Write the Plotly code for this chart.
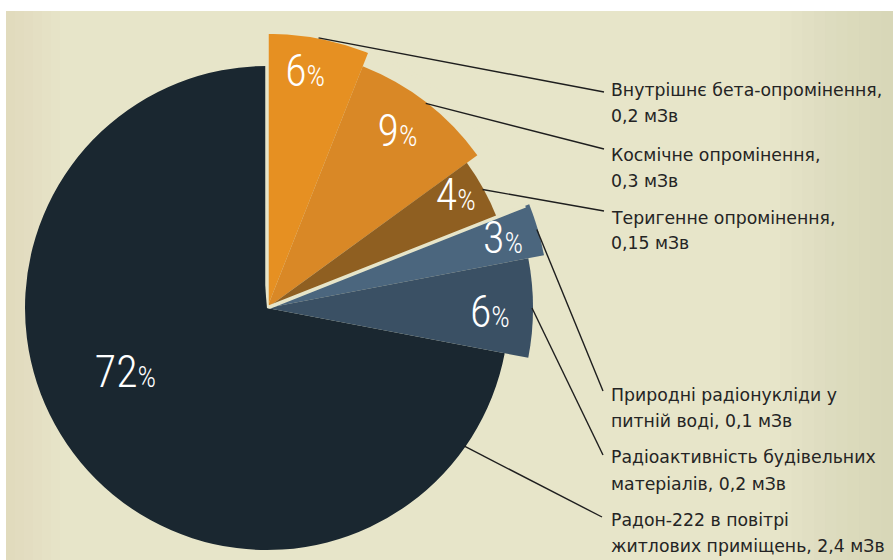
import math
import plotly.graph_objects as go

# ---------------- data ----------------
categories = [
    "Внутрішнє бета-опромінення",
    "Космічне опромінення",
    "Теригенне опромінення",
    "Природні радіонукліди у питній воді",
    "Радіоактивність будівельних матеріалів",
    "Радон-222 в повітрі житлових приміщень",
]
doses_msv = ["0,2", "0,3", "0,15", "0,1", "0,2", "2,4"]
percent = [6, 9, 4, 3, 6, 72]
label_lines = [
    ["Внутрішнє бета-опромінення,", "0,2 мЗв"],
    ["Космічне опромінення,", "0,3 мЗв"],
    ["Теригенне опромінення,", "0,15 мЗв"],
    ["Природні радіонукліди у", "питній воді, 0,1 мЗв"],
    ["Радіоактивність будівельних", "матеріалів, 0,2 мЗв"],
    ["Радон-222 в повітрі", "житлових приміщень, 2,4 мЗв"],
]

# ---------------- style ----------------
W, H = 893, 560
CX, CY = 267, 308                      # pie centre in pixels
slice_r = [276, 260, 247, 282, 266, 242]  # drawn radius of each slice (px)
colors = ["#e69022", "#d98826", "#8f5f21", "#4b667e", "#3a5064", "#1a2730"]
beige = "#e7e5c9"
pct_font = "Roboto Condensed, Liberation Sans Narrow, DejaVu Sans Condensed, Roboto, sans-serif"
label_r = [236, 217, 218, 245, 223, 157]
label_dtheta = [-1.5, -0.8, -1.2, 0.6, 2.0, 14.0]
label_y_px = [[90, 116], [155, 181], [218, 243], [395, 421], [457, 484], [520, 546]]
label_x_px = 609
leader_end_px = [(604, 92), (604, 149), (604, 211), (603, 391), (603, 455), (602, 517)]
leader_anchor_big = 125.0

# ---------------- geometry from data ----------------
cum = [0]
for p in percent:
    cum.append(cum[-1] + p)
start_deg = [c * 3.6 for c in cum[:-1]]
width_deg = [p * 3.6 for p in percent]
mid_deg = [s + w / 2 for s, w in zip(start_deg, width_deg)]

def pct_text(p):
    return f"{p}<span style='font-size:29px'>%</span>"

fig = go.Figure()

# big slice in full-circle polar subplot
fig.add_trace(go.Barpolar(
    r=[slice_r[5]], theta=[mid_deg[5]], width=[width_deg[5]],
    marker=dict(color=colors[5], line=dict(width=0)),
    subplot="polar", hoverinfo="skip", showlegend=False,
))
fig.add_trace(go.Scatterpolar(
    r=[label_r[5]], theta=[mid_deg[5] + label_dtheta[5]], mode="text",
    text=[pct_text(percent[5])],
    textfont=dict(family=pct_font, size=44, color="white", weight=300),
    subplot="polar", hoverinfo="skip", showlegend=False, cliponaxis=False,
))

# small slices in sector polar subplot
idx = list(range(5))
fig.add_trace(go.Barpolar(
    r=[slice_r[i] for i in idx], theta=[mid_deg[i] for i in idx],
    width=[width_deg[i] for i in idx],
    marker=dict(color=[colors[i] for i in idx], line=dict(width=0)),
    subplot="polar2", hoverinfo="skip", showlegend=False,
))
# beige outline around the orange group
grp_start = start_deg[0]
grp_end = start_deg[2] + width_deg[2]
fig.add_trace(go.Barpolar(
    r=[max(slice_r[:3])], theta=[(grp_start + grp_end) / 2], width=[grp_end - grp_start],
    marker=dict(color="rgba(0,0,0,0)", line=dict(width=3.5, color=beige)),
    subplot="polar2", hoverinfo="skip", showlegend=False,
))
fig.add_trace(go.Scatterpolar(
    r=[label_r[i] for i in idx], theta=[mid_deg[i] + label_dtheta[i] for i in idx], mode="text",
    text=[pct_text(percent[i]) for i in idx],
    textfont=dict(family=pct_font, size=44, color="white", weight=300),
    subplot="polar2", hoverinfo="skip", showlegend=False, cliponaxis=False,
))

# ---------------- polar domains ----------------
P1 = 250
dom1_x = [(CX - P1) / W, (CX + P1) / W]
dom1_y = [(H - (CY + P1)) / H, (H - (CY - P1)) / H]

sector = [-15, 95]
def bbox(a0, a1):
    c0, s0 = math.cos(math.radians(a0)), math.sin(math.radians(a0))
    c1, s1 = math.cos(math.radians(a1)), math.sin(math.radians(a1))
    return [min(0, c0, c1), min(0, s0, s1), 1.0, 1.0]
bx0, by0, bx1, by1 = bbox(*sector)
P2 = 290
left, right = CX + P2 * bx0, CX + P2 * bx1
top, bottom = CY - P2 * by1, CY - P2 * by0
dom2_x = [left / W, right / W]
dom2_y = [(H - bottom) / H, (H - top) / H]

polar_common = dict(
    bgcolor="rgba(0,0,0,0)",
    radialaxis=dict(visible=False, showgrid=False, showline=False, showticklabels=False, ticks=""),
    angularaxis=dict(visible=False, showgrid=False, showline=False, showticklabels=False, ticks="",
                     direction="clockwise", rotation=90),
)

shapes = []
# soft shading toward the right and left edges of the parchment
top_y = (H - 11) / H
for k in range(10):
    x0 = 780 + k * 11.3
    shapes.append(dict(type="rect", xref="paper", yref="paper", x0=x0 / W, x1=1, y0=0, y1=top_y,
                       fillcolor="#d2cfa5", opacity=0.06, line=dict(width=0), layer="below"))
for k in range(6):
    x1 = 60 - k * 9
    shapes.append(dict(type="rect", xref="paper", yref="paper", x0=6 / W, x1=x1 / W, y0=0, y1=top_y,
                       fillcolor="#d8d2a6", opacity=0.06, line=dict(width=0), layer="below"))
# white border strips of the original scan
shapes.append(dict(type="rect", xref="paper", yref="paper", x0=0, x1=1, y0=top_y, y1=1,
                   fillcolor="white", line=dict(width=0), layer="above"))
shapes.append(dict(type="rect", xref="paper", yref="paper", x0=0, x1=6 / W, y0=0, y1=1,
                   fillcolor="white", line=dict(width=0), layer="above"))

# leader lines from slice edges to the labels
anchors = mid_deg[:5] + [leader_anchor_big]
for i in range(6):
    th = math.radians(anchors[i])
    rr = slice_r[i] - 1
    x0 = CX + rr * math.sin(th)
    y0 = CY - rr * math.cos(th)
    x1, y1 = leader_end_px[i]
    shapes.append(dict(type="line", xref="paper", yref="paper",
                       x0=x0 / W, y0=(H - y0) / H, x1=x1 / W, y1=(H - y1) / H,
                       line=dict(color="#1e1e1e", width=1.4), layer="above"))

annotations = []
for i in range(6):
    for j, line in enumerate(label_lines[i]):
        annotations.append(dict(
            xref="paper", yref="paper", x=label_x_px / W, y=(H - label_y_px[i][j]) / H,
            xanchor="left", yanchor="middle", showarrow=False, text=line, align="left",
            font=dict(family="DejaVu Sans, Verdana, sans-serif", size=17.3, color="#242424"),
        ))

fig.update_layout(
    width=W, height=H, autosize=False,
    margin=dict(l=0, r=0, t=0, b=0),
    paper_bgcolor=beige, plot_bgcolor=beige,
    showlegend=False,
    polar=dict(domain=dict(x=dom1_x, y=dom1_y), **polar_common),
    polar2=dict(domain=dict(x=dom2_x, y=dom2_y), sector=sector, **polar_common),
    shapes=shapes,
    annotations=annotations,
)
fig.layout.polar.radialaxis.range = [0, P1]
fig.layout.polar2.radialaxis.range = [0, P2]

fig.write_html("out.html")
